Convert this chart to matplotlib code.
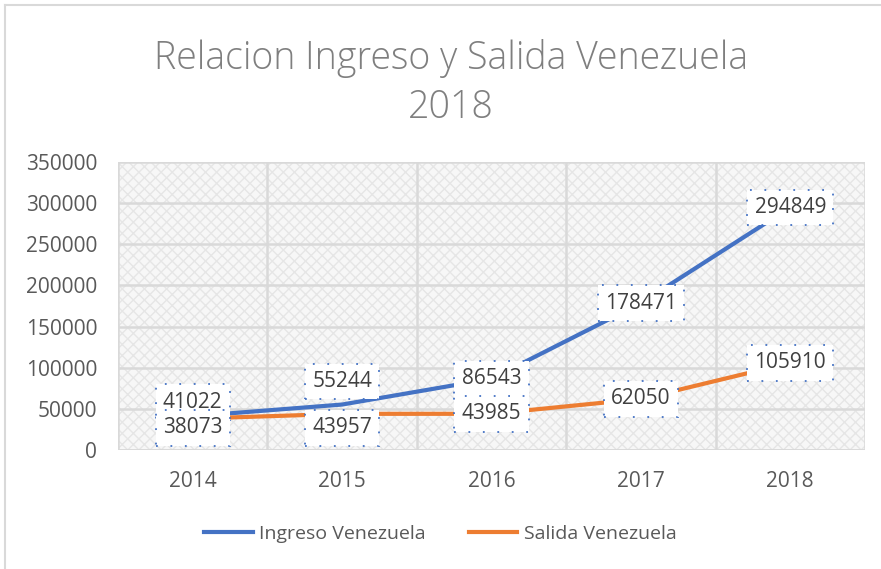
import numpy as np
import matplotlib.pyplot as plt
from matplotlib.patches import Rectangle
from matplotlib.lines import Line2D

# data
years = ['2014', '2015', '2016', '2017', '2018']
ingreso = [41022, 55244, 86543, 178471, 294849]
salida = [38073, 43957, 43985, 62050, 105910]
# label nudges (in data units) as placed in the original chart
ingreso_shift = [17000, 28000, 0, 0, 0]
salida_shift = [-11000, -17000, 0, 0, 0]

W, H = 881, 569
fig = plt.figure(figsize=(W / 100, H / 100), dpi=100)
plt.rcParams['font.family'] = ['Open Sans', 'DejaVu Sans']

ax = fig.add_axes([118 / W, 1 - 450 / H, (865 - 118) / W, (450 - 162) / H])
x = np.arange(len(years))

# textured plot background
ax.set_facecolor('#f7f7f7')
ax.add_patch(Rectangle((0, 0), 1, 1, transform=ax.transAxes, facecolor='none',
                       edgecolor='#e6e6e6', hatch='xxx', linewidth=0, zorder=0))

ax.plot(x, ingreso, color='#4472C4', linewidth=3.0, solid_capstyle='round', zorder=3)
ax.plot(x, salida, color='#ED7D31', linewidth=3.0, solid_capstyle='round', zorder=3)

box = dict(boxstyle='square,pad=0.35', facecolor='white', edgecolor='#4472C4',
           linestyle=(0, (1, 7)), linewidth=1.3)
for i in x:
    ax.text(i, ingreso[i] + ingreso_shift[i], f'{ingreso[i]}', ha='center', va='center',
            fontsize=15, color='#404040', bbox=box, zorder=5)
    ax.text(i, salida[i] + salida_shift[i], f'{salida[i]}', ha='center', va='center',
            fontsize=15, color='#404040', bbox=box, zorder=5)

ax.set_xlim(-0.5, 4.5)
ax.set_ylim(0, 350000)
ax.set_yticks(np.arange(0, 350001, 50000))
ax.set_xticks(x)
ax.set_xticklabels(years)
ax.set_xticks(np.arange(-0.5, 5, 1), minor=True)
ax.tick_params(axis='both', which='both', length=0, labelsize=15, labelcolor='#595959')
ax.tick_params(axis='x', pad=15)
ax.tick_params(axis='y', pad=15)
ax.grid(axis='y', which='major', color='#d9d9d9', linewidth=1.8)
ax.grid(axis='x', which='minor', color='#d9d9d9', linewidth=1.8)
ax.set_axisbelow(True)
for s in ax.spines.values():
    s.set_visible(False)
ax.axhline(0, color='#d9d9d9', linewidth=1.8)

fig.text(451 / W, 1 - 83 / H, 'Relacion Ingreso y Salida Venezuela\n2018', ha='center',
         va='center', fontsize=27, color='#7f7f7f', linespacing=1.35,
         fontweight='light')

handles = [Line2D([], [], color='#4472C4', linewidth=3.0),
           Line2D([], [], color='#ED7D31', linewidth=3.0)]
fig.legend(handles, ['Ingreso Venezuela', 'Salida Venezuela'], loc='center',
           bbox_to_anchor=(0.5, 1 - 534 / H), ncol=2, frameon=False, fontsize=14,
           labelcolor='#595959', handlelength=2.5, handletextpad=0.35, columnspacing=2.2)

# chart frame
fig.add_artist(Line2D([5 / W, 1], [1 - 5 / H, 1 - 5 / H], color='#d9d9d9', linewidth=1.5))
fig.add_artist(Line2D([5 / W, 5 / W], [0, 1 - 5 / H], color='#d9d9d9', linewidth=1.5))

fig.savefig('out.png', dpi=100)
